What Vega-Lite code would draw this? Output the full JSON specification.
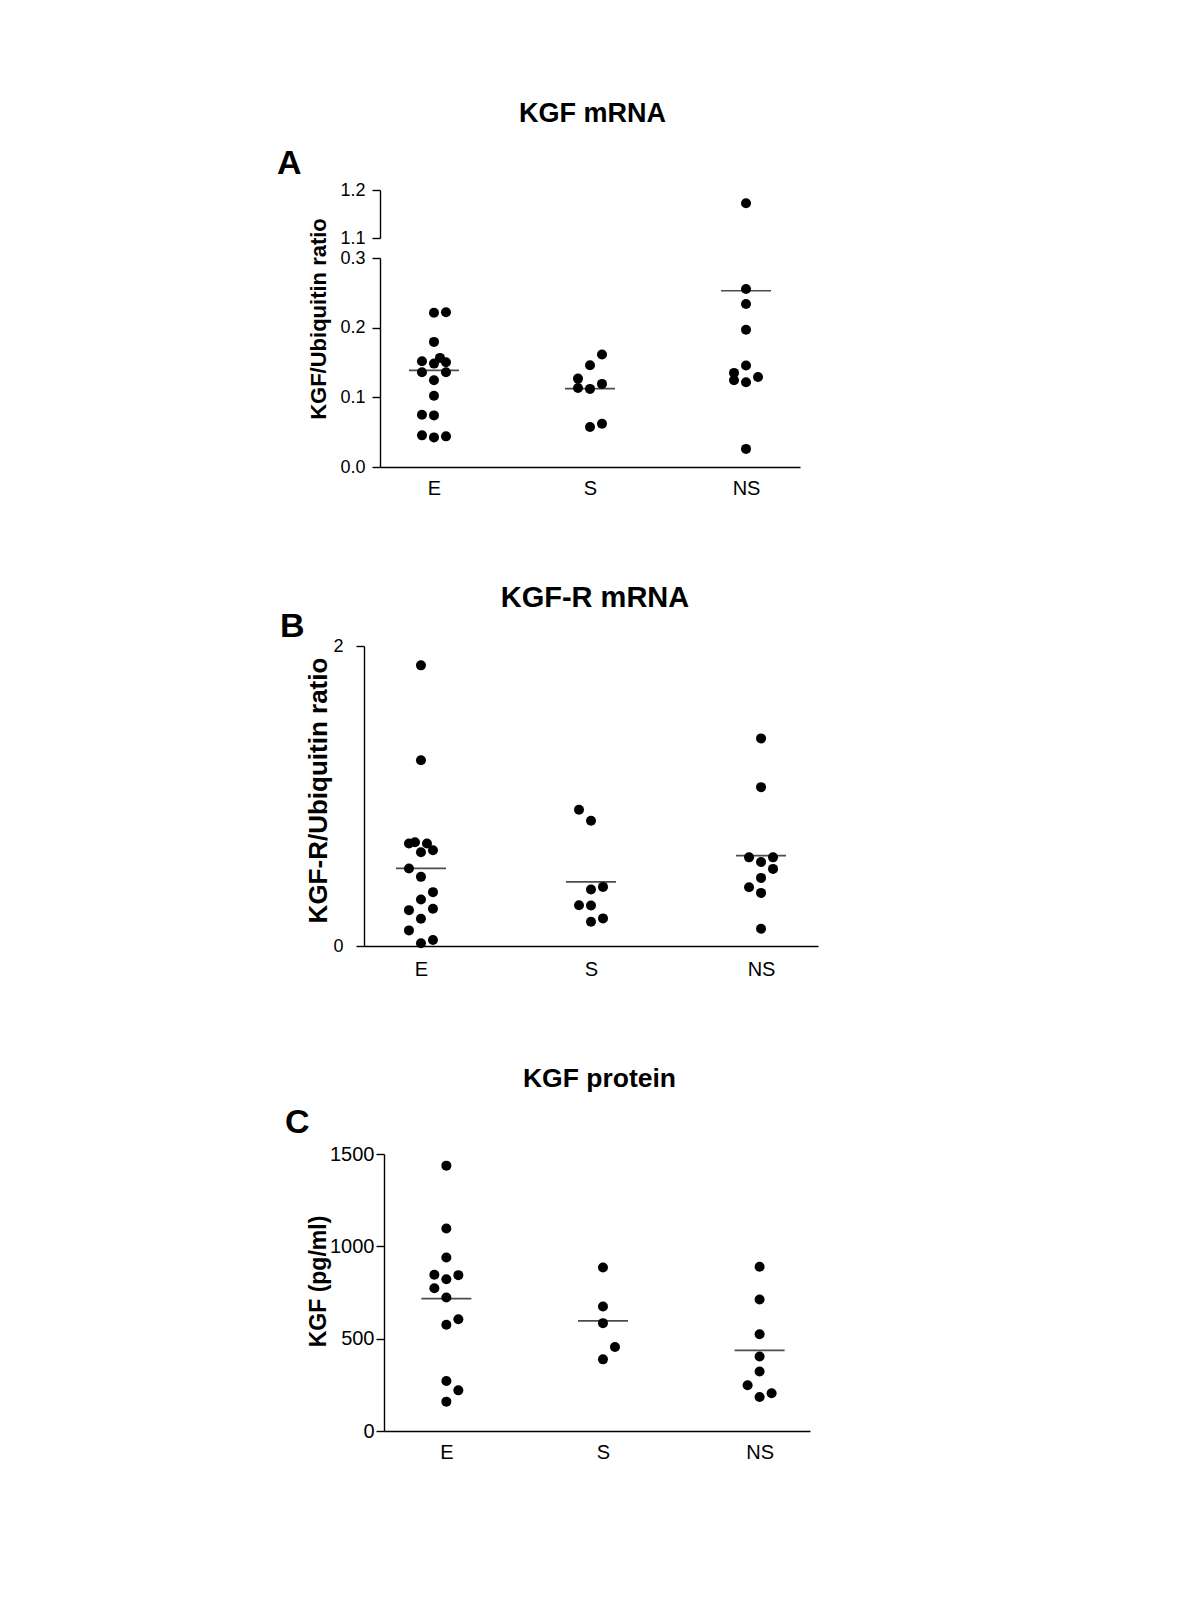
{
  "$schema": "https://vega.github.io/schema/vega-lite/v6.json",
  "background": "white",
  "padding": {"left": 277, "top": 100, "right": 5, "bottom": 5},
  "spacing": 86,
  "config": {
    "view": {"stroke": null},
    "font": "Liberation Sans",
    "axis": {
      "grid": false,
      "domainColor": "black",
      "domainWidth": 1.4,
      "tickColor": "black",
      "tickWidth": 1.4,
      "tickSize": 8,
      "labelColor": "black",
      "labelFont": "Liberation Sans",
      "labelFontSize": 18,
      "labelPadding": 7,
      "titleColor": "black",
      "titleFont": "Liberation Sans",
      "titleFontWeight": "bold",
      "titleFontSize": 22
    },
    "axisX": {"ticks": false, "labelPadding": 11, "labelAngle": 0, "labelFontSize": 20},
    "title": {"font": "Liberation Sans", "fontWeight": "bold", "color": "black"}
  },
  "datasets": {
    "kgf": [
      {"group": "E", "value": 0.2213, "slot": 0},
      {"group": "E", "value": 0.2221, "slot": 1},
      {"group": "E", "value": 0.1796, "slot": 0},
      {"group": "E", "value": 0.1566, "slot": 0.5},
      {"group": "E", "value": 0.1517, "slot": -1},
      {"group": "E", "value": 0.1484, "slot": 0},
      {"group": "E", "value": 0.1503, "slot": 1},
      {"group": "E", "value": 0.1359, "slot": -1},
      {"group": "E", "value": 0.1359, "slot": 1},
      {"group": "E", "value": 0.1244, "slot": 0},
      {"group": "E", "value": 0.1024, "slot": 0},
      {"group": "E", "value": 0.0751, "slot": -1},
      {"group": "E", "value": 0.0741, "slot": 0},
      {"group": "E", "value": 0.0454, "slot": -1},
      {"group": "E", "value": 0.0425, "slot": 0},
      {"group": "E", "value": 0.044, "slot": 1},
      {"group": "S", "value": 0.1614, "slot": 1},
      {"group": "S", "value": 0.146, "slot": 0},
      {"group": "S", "value": 0.1269, "slot": -1},
      {"group": "S", "value": 0.1135, "slot": -1},
      {"group": "S", "value": 0.1121, "slot": 0},
      {"group": "S", "value": 0.1193, "slot": 1},
      {"group": "S", "value": 0.0575, "slot": 0},
      {"group": "S", "value": 0.0622, "slot": 1},
      {"group": "NS", "value": 1.1725, "slot": 0},
      {"group": "NS", "value": 0.2555, "slot": 0},
      {"group": "NS", "value": 0.234, "slot": 0},
      {"group": "NS", "value": 0.197, "slot": 0},
      {"group": "NS", "value": 0.1457, "slot": 0},
      {"group": "NS", "value": 0.1351, "slot": -1},
      {"group": "NS", "value": 0.1244, "slot": -1},
      {"group": "NS", "value": 0.1216, "slot": 0},
      {"group": "NS", "value": 0.1293, "slot": 1},
      {"group": "NS", "value": 0.026, "slot": 0}
    ],
    "kgfMed": [
      {"group": "E", "value": 0.1388},
      {"group": "S", "value": 0.1124},
      {"group": "NS", "value": 0.253}
    ],
    "kgfr": [
      {"group": "E", "value": 1.871, "slot": 0},
      {"group": "E", "value": 1.238, "slot": 0},
      {"group": "E", "value": 0.683, "slot": -1},
      {"group": "E", "value": 0.6915, "slot": -0.5},
      {"group": "E", "value": 0.625, "slot": 0},
      {"group": "E", "value": 0.683, "slot": 0.5},
      {"group": "E", "value": 0.638, "slot": 1},
      {"group": "E", "value": 0.5166, "slot": -1},
      {"group": "E", "value": 0.461, "slot": 0},
      {"group": "E", "value": 0.359, "slot": 1},
      {"group": "E", "value": 0.3105, "slot": 0},
      {"group": "E", "value": 0.239, "slot": -1},
      {"group": "E", "value": 0.2487, "slot": 1},
      {"group": "E", "value": 0.182, "slot": 0},
      {"group": "E", "value": 0.104, "slot": -1},
      {"group": "E", "value": 0.018, "slot": 0},
      {"group": "E", "value": 0.04, "slot": 1},
      {"group": "S", "value": 0.908, "slot": -1},
      {"group": "S", "value": 0.835, "slot": 0},
      {"group": "S", "value": 0.394, "slot": 1},
      {"group": "S", "value": 0.377, "slot": 0},
      {"group": "S", "value": 0.272, "slot": -1},
      {"group": "S", "value": 0.27, "slot": 0},
      {"group": "S", "value": 0.162, "slot": 0},
      {"group": "S", "value": 0.184, "slot": 1},
      {"group": "NS", "value": 1.384, "slot": 0},
      {"group": "NS", "value": 1.059, "slot": 0},
      {"group": "NS", "value": 0.591, "slot": -1},
      {"group": "NS", "value": 0.591, "slot": 1},
      {"group": "NS", "value": 0.56, "slot": 0},
      {"group": "NS", "value": 0.514, "slot": 1},
      {"group": "NS", "value": 0.454, "slot": 0},
      {"group": "NS", "value": 0.392, "slot": -1},
      {"group": "NS", "value": 0.354, "slot": 0},
      {"group": "NS", "value": 0.115, "slot": 0}
    ],
    "kgfrMed": [
      {"group": "E", "value": 0.517},
      {"group": "S", "value": 0.427},
      {"group": "NS", "value": 0.602}
    ],
    "protein": [
      {"group": "E", "value": 1437, "slot": 0},
      {"group": "E", "value": 1097, "slot": 0},
      {"group": "E", "value": 940, "slot": 0},
      {"group": "E", "value": 846, "slot": -1},
      {"group": "E", "value": 844, "slot": 1},
      {"group": "E", "value": 822, "slot": 0},
      {"group": "E", "value": 773, "slot": -1},
      {"group": "E", "value": 723, "slot": 0},
      {"group": "E", "value": 605, "slot": 1},
      {"group": "E", "value": 575, "slot": 0},
      {"group": "E", "value": 271, "slot": 0},
      {"group": "E", "value": 220, "slot": 1},
      {"group": "E", "value": 159, "slot": 0},
      {"group": "S", "value": 885, "slot": 0},
      {"group": "S", "value": 674, "slot": 0},
      {"group": "S", "value": 584, "slot": 0},
      {"group": "S", "value": 455, "slot": 1},
      {"group": "S", "value": 388, "slot": 0},
      {"group": "NS", "value": 889, "slot": 0},
      {"group": "NS", "value": 712, "slot": 0},
      {"group": "NS", "value": 524, "slot": 0},
      {"group": "NS", "value": 403, "slot": 0},
      {"group": "NS", "value": 322, "slot": 0},
      {"group": "NS", "value": 248, "slot": -1},
      {"group": "NS", "value": 204, "slot": 1},
      {"group": "NS", "value": 184, "slot": 0}
    ],
    "proteinMed": [
      {"group": "E", "value": 717},
      {"group": "S", "value": 596},
      {"group": "NS", "value": 437}
    ]
  },
  "vconcat": [
    {
      "title": {"text": "KGF mRNA", "anchor": "middle", "frame": "bounds", "fontSize": 27, "dx": 54, "offset": 19},
      "bounds": "flush",
      "spacing": 20,
      "vconcat": [
        {
          "title": {"text": "A", "anchor": "start", "frame": "group", "dx": -87, "fontSize": 34, "offset": 0},
          "width": 436,
          "height": 48,
          "data": {"name": "kgf"},
          "transform": [{"filter": "datum.value > 1"}],
          "mark": {"type": "circle", "size": 100, "color": "black", "opacity": 1},
          "encoding": {
            "x": {"field": "group", "type": "nominal", "sort": ["E", "S", "NS"], "scale": {"type": "point", "padding": 0.346, "range": [16, 436], "domain": ["E", "S", "NS"]}, "axis": null},
            "xOffset": {"field": "slot", "type": "quantitative", "scale": {"domain": [-1, 1], "range": [-12, 12]}},
            "y": {"field": "value", "type": "quantitative", "scale": {"domain": [1.1, 1.2], "nice": false, "zero": false}, "axis": {"values": [1.1, 1.2], "format": ".1f", "title": null, "offset": -16}}
          }
        },
        {
          "width": 436,
          "height": 209,
          "layer": [
            {
              "data": {"name": "kgf"},
              "transform": [{"filter": "datum.value < 1"}],
              "mark": {"type": "circle", "size": 100, "color": "black", "opacity": 1},
              "encoding": {
                "x": {"field": "group", "type": "nominal", "sort": ["E", "S", "NS"], "scale": {"type": "point", "padding": 0.346, "range": [16, 436], "domain": ["E", "S", "NS"]}, "axis": {"title": null}},
                "xOffset": {"field": "slot", "type": "quantitative", "scale": {"domain": [-1, 1], "range": [-12, 12]}},
                "y": {"field": "value", "type": "quantitative", "scale": {"domain": [0, 0.3], "nice": false}, "axis": {"values": [0, 0.1, 0.2, 0.3], "format": ".1f", "offset": -16, "title": "KGF/Ubiquitin ratio", "titleX": -50, "titleY": 60.5}}
              }
            },
            {
              "data": {"name": "kgfMed"},
              "mark": {"type": "tick", "color": "black", "size": 50, "thickness": 1.7, "orient": "horizontal"},
              "encoding": {
                "x": {"field": "group", "type": "nominal", "sort": ["E", "S", "NS"]},
                "y": {"field": "value", "type": "quantitative"}
              }
            }
          ]
        }
      ]
    },
    {
      "title": {"text": "KGF-R mRNA", "anchor": "middle", "frame": "bounds", "fontSize": 29, "dx": 46, "offset": -3},
      "vconcat": [
        {
          "title": {"text": "B", "anchor": "start", "frame": "group", "dx": -84, "fontSize": 34, "offset": -7},
          "width": 454,
          "height": 300,
          "layer": [
            {
              "data": {"name": "kgfr"},
              "mark": {"type": "circle", "size": 100, "color": "black", "opacity": 1},
              "encoding": {
                "x": {"field": "group", "type": "nominal", "sort": ["E", "S", "NS"], "scale": {"type": "point", "padding": 0.335, "domain": ["E", "S", "NS"]}, "axis": {"title": null, "labelPadding": 13}},
                "xOffset": {"field": "slot", "type": "quantitative", "scale": {"domain": [-1, 1], "range": [-13.3, 13.3]}},
                "y": {"field": "value", "type": "quantitative", "scale": {"domain": [0, 2], "nice": false}, "axis": {"values": [0, 1, 2], "format": "d", "labelPadding": 13, "title": "KGF-R/Ubiquitin ratio", "titleFontSize": 26, "titleX": -33, "titleY": 144}}
              }
            },
            {
              "data": {"name": "kgfrMed"},
              "mark": {"type": "tick", "color": "black", "size": 50, "thickness": 1.7, "orient": "horizontal"},
              "encoding": {
                "x": {"field": "group", "type": "nominal", "sort": ["E", "S", "NS"]},
                "y": {"field": "value", "type": "quantitative"}
              }
            }
          ]
        }
      ]
    },
    {
      "title": {"text": "KGF protein", "anchor": "middle", "frame": "bounds", "fontSize": 26.5, "dx": 52, "offset": 14},
      "vconcat": [
        {
          "title": {"text": "C", "anchor": "start", "frame": "group", "dx": -79, "fontSize": 34, "offset": 4},
          "width": 446,
          "height": 277,
          "layer": [
            {
              "data": {"name": "protein"},
              "mark": {"type": "circle", "size": 100, "color": "black", "opacity": 1},
              "encoding": {
                "x": {"field": "group", "type": "nominal", "sort": ["E", "S", "NS"], "scale": {"type": "point", "padding": 0.36, "align": 0.553, "range": [20, 446], "domain": ["E", "S", "NS"]}, "axis": {"title": null}},
                "xOffset": {"field": "slot", "type": "quantitative", "scale": {"domain": [-1, 1], "range": [-12.5, 12.5]}},
                "y": {"field": "value", "type": "quantitative", "scale": {"domain": [0, 1500], "nice": false}, "axis": {"values": [0, 500, 1000, 1500], "format": "d", "offset": -20, "labelFontSize": 20, "labelPadding": 2, "title": "KGF (pg/ml)", "titleFontSize": 23, "titleX": -54, "titleY": 127}}
              }
            },
            {
              "data": {"name": "proteinMed"},
              "mark": {"type": "tick", "color": "black", "size": 50, "thickness": 1.7, "orient": "horizontal"},
              "encoding": {
                "x": {"field": "group", "type": "nominal", "sort": ["E", "S", "NS"]},
                "y": {"field": "value", "type": "quantitative"}
              }
            }
          ]
        }
      ]
    }
  ]
}
